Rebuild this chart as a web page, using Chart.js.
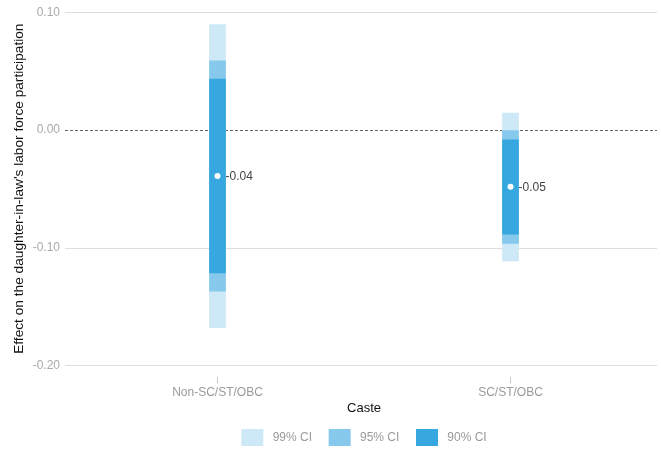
<!DOCTYPE html>
<html>
<head>
<meta charset="utf-8">
<script src="https://cdn.jsdelivr.net/npm/chart.js@4.4.0/dist/chart.umd.min.js"></script>
<style>
  html, body { margin: 0; padding: 0; background: #fff; }
  #wrap { width: 661px; height: 450px; }
</style>
</head>
<body>
<div id="wrap"><canvas id="myChart"></canvas></div>
<script>
const castes = ["Non-SC/ST/OBC", "SC/ST/OBC"];
const estimates = [-0.039, -0.048];
const ci99 = [[-0.1675, 0.0894], [-0.111, 0.0145]];
const ci95 = [[-0.1365, 0.0588], [-0.096, -0.0003]];
const ci90 = [[-0.121, 0.0432], [-0.0883, -0.0083]];
const ciLabels = ["99% CI", "95% CI", "90% CI"];
const ciColors = ["#cde8f7", "#86c9ec", "#37a8df"];
const yTicks = [-0.2, -0.1, 0, 0.1];

const FONT = "'Liberation Sans', Arial, sans-serif";

// dashed reference line at zero, drawn under the bars
const zeroLine = {
  id: "zeroLine",
  beforeDatasetsDraw(chart) {
    const { ctx, chartArea, scales } = chart;
    const y = Math.round(scales.y.getPixelForValue(0)) + 0.5;
    ctx.save();
    ctx.strokeStyle = "#666";
    ctx.lineWidth = 1;
    ctx.setLineDash([3, 2]);
    ctx.beginPath();
    ctx.moveTo(chartArea.left - 6, y);
    ctx.lineTo(chartArea.right, y);
    ctx.stroke();
    ctx.restore();
  },
};

// estimate value printed next to each dot
const valueLabels = {
  id: "valueLabels",
  afterDatasetsDraw(chart) {
    const { ctx } = chart;
    const meta = chart.getDatasetMeta(3);
    ctx.save();
    ctx.font = "12px " + FONT;
    ctx.fillStyle = "#444";
    ctx.textAlign = "left";
    ctx.textBaseline = "middle";
    meta.data.forEach((pt, i) => {
      ctx.fillText(estimates[i].toFixed(2), pt.x + 8, pt.y + 1);
    });
    ctx.restore();
  },
};

const ctx = document.getElementById("myChart");
new Chart(ctx, {
  type: "bar",
  data: {
    labels: castes,
    datasets: [
      { label: ciLabels[0], data: ci99, backgroundColor: ciColors[0], order: 3 },
      { label: ciLabels[1], data: ci95, backgroundColor: ciColors[1], order: 2 },
      { label: ciLabels[2], data: ci90, backgroundColor: ciColors[2], order: 1 },
      {
        type: "line",
        label: "Estimate",
        data: estimates,
        showLine: false,
        pointRadius: 3,
        pointBorderWidth: 0,
        pointBackgroundColor: "#fff",
        order: 0,
      },
    ],
  },
  options: {
    responsive: true,
    maintainAspectRatio: false,
    animation: false,
    datasets: {
      bar: { grouped: false, barThickness: 16, borderWidth: 0 },
    },
    layout: { padding: { top: 0, right: 2, bottom: -6, left: 0 } },
    scales: {
      x: {
        type: "category",
        offset: true,
        grid: {
          drawOnChartArea: false,
          offset: false,
          tickLength: 7,
          color: "#cccccc",
        },
        border: { display: false },
        ticks: {
          color: "#9a9a9a",
          padding: 2,
          font: { size: 12, family: FONT },
        },
        title: {
          display: true,
          text: "Caste",
          color: "#111",
          padding: { top: 0, bottom: 4 },
          font: { size: 13, family: FONT, lineHeight: 1 },
        },
      },
      y: {
        min: -0.209,
        max: 0.1,
        afterBuildTicks: (axis) => {
          axis.ticks = yTicks.map((v) => ({ value: v }));
        },
        afterFit: (axis) => {
          axis.width = 71;
        },
        grid: {
          tickLength: 6,
          lineWidth: 1,
          color: (c) => (c.tick && c.tick.value === 0 ? "rgba(0,0,0,0)" : "#dddddd"),
          tickColor: (c) => (c.tick && c.tick.value === 0 ? "rgba(0,0,0,0)" : "#dddddd"),
        },
        border: { display: false },
        ticks: {
          color: "#aaaaaa",
          padding: 5,
          font: { size: 12, family: FONT },
          callback: (v) => v.toFixed(2),
        },
        title: {
          display: true,
          // leading spaces nudge the centred title a little towards the top
          text: "   Effect on the daughter-in-law's labor force participation",
          color: "#111",
          padding: { top: 11, bottom: 0 },
          font: { size: 13.7, family: FONT },
        },
      },
    },
    plugins: {
      legend: {
        position: "bottom",
        fullSize: false,
        labels: {
          boxWidth: 22,
          boxHeight: 17,
          padding: 10,
          color: "#9a9a9a",
          font: { size: 12, family: FONT },
          generateLabels: (chart) => {
            const items = Chart.defaults.plugins.legend.labels.generateLabels(chart);
            return items.map((item) => ({
              ...item,
              text: " " + item.text + (item.datasetIndex < 2 ? "  " : ""),
            }));
          },
          filter: (item) => item.datasetIndex < 3,
          sort: (a, b) => a.datasetIndex - b.datasetIndex,
        },
      },
      tooltip: { enabled: false },
    },
  },
  plugins: [zeroLine, valueLabels],
});
</script>
</body>
</html>
